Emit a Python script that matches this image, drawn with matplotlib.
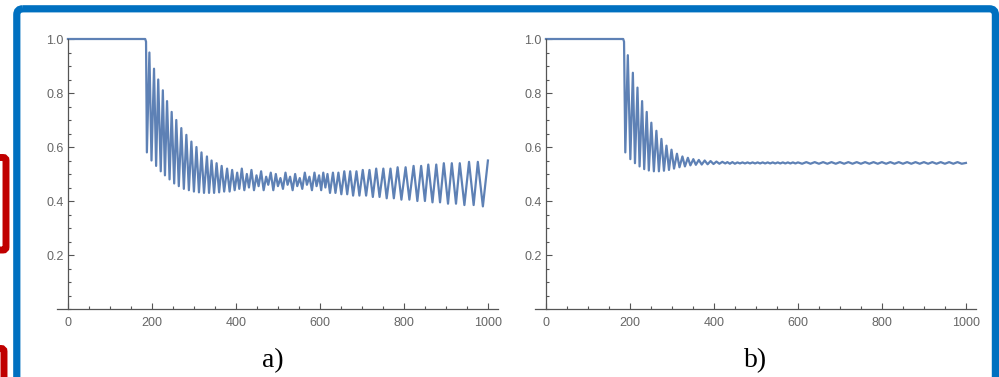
import matplotlib.pyplot as plt
from matplotlib.patches import FancyBboxPatch
from matplotlib.ticker import MultipleLocator

# --- data: turning points (time, value) ---
a_t = [0, 184, 186,
       188, 194, 199, 205, 210, 215, 221, 226, 231, 236, 242, 247, 253, 258,
       264, 270, 276, 282, 288, 294, 300, 306, 312, 318, 324, 331, 336, 342,
       348, 354, 360, 366, 372, 379, 385,
       391, 397, 403, 408, 414, 420, 426, 431, 437, 443, 449, 454, 460, 466,
       472, 477, 483, 489, 495, 500, 506, 512, 518, 523, 529, 535, 541, 546,
       552, 558, 564, 569, 575, 581, 587, 592, 598, 603, 608, 613,
       618, 624, 631, 637, 644, 651, 658, 665, 672, 679, 687, 694, 702, 710,
       718, 726, 734, 742, 751, 759, 768, 776, 785, 794, 804, 813, 823, 832,
       841, 850, 858, 868, 877, 886, 895, 905, 914, 924, 933, 944, 955, 966,
       976, 988, 1000]
a_v = [1.0, 1.0, 0.99,
       0.58, 0.95, 0.55, 0.89, 0.53, 0.85, 0.51, 0.81, 0.495, 0.77, 0.48, 0.73, 0.465, 0.70,
       0.455, 0.67, 0.445, 0.645, 0.44, 0.62, 0.435, 0.60, 0.432, 0.58, 0.43, 0.565, 0.43, 0.55,
       0.43, 0.54, 0.432, 0.53, 0.435, 0.52, 0.435,
       0.515, 0.44, 0.505, 0.445, 0.52, 0.44, 0.50, 0.45, 0.515, 0.44, 0.495, 0.455, 0.51, 0.44,
       0.49, 0.46, 0.505, 0.44, 0.50, 0.455, 0.485, 0.445, 0.505, 0.46, 0.49, 0.44, 0.50, 0.455,
       0.485, 0.445, 0.505, 0.46, 0.49, 0.44, 0.505, 0.455, 0.495, 0.44, 0.505, 0.45,
       0.50, 0.43, 0.505, 0.43, 0.505, 0.425, 0.51, 0.425, 0.51, 0.42, 0.51, 0.42, 0.515, 0.42,
       0.515, 0.415, 0.52, 0.415, 0.52, 0.41, 0.52, 0.41, 0.525, 0.405, 0.525, 0.405, 0.53, 0.40,
       0.53, 0.40, 0.535, 0.395, 0.535, 0.395, 0.54, 0.39, 0.54, 0.39, 0.54, 0.385, 0.545, 0.385,
       0.545, 0.38, 0.55]

b_t = [0, 184, 186,
       189, 195, 201, 207, 212, 218, 223, 229, 234, 240, 245, 251, 257, 263,
       269, 275, 281, 287, 293, 299, 305, 312, 318, 325, 331, 338, 344, 351,
       357, 364, 371, 378, 385, 392, 399, 406, 413, 420, 427,
       432, 438, 444, 450, 456, 462, 468, 474, 480, 486, 492, 498, 504, 510,
       516, 522, 528, 534, 540, 546, 552, 558, 564, 570, 576, 582, 588, 594, 600,
       610, 620, 630, 640, 650, 660, 670, 680, 690, 700, 710, 720, 730, 740,
       750, 760, 770, 780, 790, 800, 810, 820, 830, 840, 850, 860, 870, 880,
       890, 900, 910, 920, 930, 940, 950, 960, 970, 980, 990, 1000]
b_v = [1.0, 1.0, 0.99,
       0.58, 0.94, 0.555, 0.875, 0.54, 0.82, 0.528, 0.77, 0.518, 0.73, 0.513, 0.69, 0.51, 0.66,
       0.51, 0.63, 0.512, 0.605, 0.515, 0.59, 0.52, 0.575, 0.525, 0.565, 0.528, 0.56, 0.532, 0.555,
       0.534, 0.552, 0.535, 0.55, 0.536, 0.548, 0.537, 0.546, 0.538, 0.545, 0.539,
       0.544, 0.538, 0.544, 0.538, 0.543, 0.539, 0.543, 0.539, 0.543, 0.539, 0.543, 0.539, 0.543, 0.539,
       0.543, 0.539, 0.543, 0.539, 0.543, 0.539, 0.543, 0.539, 0.543, 0.539, 0.543, 0.539, 0.543, 0.539, 0.543,
       0.538, 0.544, 0.538, 0.544, 0.538, 0.544, 0.538, 0.544, 0.538, 0.544, 0.538, 0.544, 0.538, 0.544,
       0.538, 0.544, 0.538, 0.544, 0.538, 0.544, 0.538, 0.544, 0.538, 0.544, 0.538, 0.544, 0.538, 0.544,
       0.538, 0.544, 0.538, 0.544, 0.538, 0.544, 0.538, 0.544, 0.538, 0.544, 0.538, 0.541]

x_ticks = [0, 200, 400, 600, 800, 1000]
y_ticks = [0.2, 0.4, 0.6, 0.8, 1.0]
panel_labels = ['a)', 'b)']

line_color = '#5e81b5'
axis_color = '#555555'

fig = plt.figure(figsize=(9.99, 3.77), dpi=100)

# background decorations in pixel coordinates
bg = fig.add_axes([0, 0, 1, 1], zorder=-1)
bg.set_xlim(0, 999)
bg.set_ylim(377, 0)
bg.axis('off')
bg.add_patch(FancyBboxPatch((16.8, 8.8), 978.6, 420, boxstyle='round,pad=0,rounding_size=6',
                            fill=False, ec='#0070c0', lw=5.2))
bg.add_patch(FancyBboxPatch((-20, 157.5), 26, 92.5, boxstyle='round,pad=0,rounding_size=3',
                            fill=False, ec='#c00000', lw=5.0))
bg.add_patch(FancyBboxPatch((-20, 348.5), 24, 80, boxstyle='round,pad=0,rounding_size=3',
                            fill=False, ec='#c00000', lw=5.0))

lefts = [57 / 999, 535 / 999]
for k, (t, v) in enumerate([(a_t, a_v), (b_t, b_v)]):
    ax = fig.add_axes([lefts[k], 68 / 377, 441 / 999, 270 / 377])
    ax.plot(t, v, color=line_color, lw=1.6, clip_on=False, solid_joinstyle='round')
    ax.set_xlim(-26, 1024)
    ax.set_ylim(0, 1.0)
    for s in ['top', 'right']:
        ax.spines[s].set_visible(False)
    ax.spines['left'].set_position(('data', 0))
    ax.spines['left'].set_bounds(0, 1.0)
    for s in ['left', 'bottom']:
        ax.spines[s].set_color(axis_color)
        ax.spines[s].set_linewidth(0.9)
    ax.set_xticks(x_ticks)
    ax.set_yticks(y_ticks)
    ax.set_yticklabels([f'{y:.1f}' for y in y_ticks])
    ax.xaxis.set_minor_locator(MultipleLocator(50))
    ax.yaxis.set_minor_locator(MultipleLocator(0.05))
    ax.tick_params(which='both', direction='in', color=axis_color, width=0.8,
                   labelsize=9, labelcolor='#666666')
    ax.tick_params(which='major', length=4)
    ax.tick_params(which='minor', length=2.5)
    ax.tick_params(axis='x', pad=6)
    ax.tick_params(axis='y', pad=3)
    for lab in ax.get_xticklabels() + ax.get_yticklabels():
        lab.set_family('Liberation Sans')
    ax.patch.set_alpha(0)

fig.text(273 / 999, 1 - 361 / 377, panel_labels[0], family='Liberation Serif',
         fontsize=20, ha='center', va='center')
fig.text(756 / 999, 1 - 361 / 377, panel_labels[1], family='Liberation Serif',
         fontsize=20, ha='center', va='center')

fig.savefig('out.png', dpi=100)
